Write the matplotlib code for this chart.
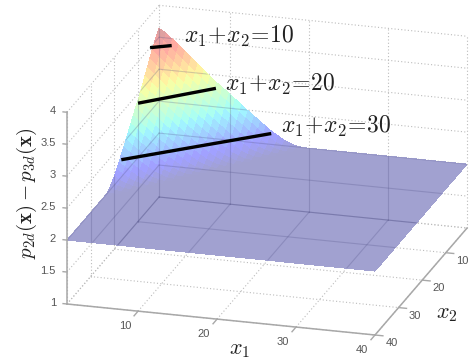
import numpy as np
import matplotlib
matplotlib.use("Agg")
import matplotlib.pyplot as plt
from matplotlib.path import Path
from matplotlib.transforms import IdentityTransform
from mpl_toolkits.mplot3d import proj3d

plt.rcParams['font.family'] = ['Liberation Sans', 'DejaVu Sans']
plt.rcParams['mathtext.fontset'] = 'cm'

# surface height read along the diagonals of the grid, then flat at 2
z_profile = [3.64, 3.58, 3.50, 3.42, 3.33, 3.24, 3.15, 3.06, 2.97, 2.89,
             2.82, 2.74, 2.66, 2.58, 2.50, 2.42, 2.35, 2.27, 2.20, 2.14,
             2.08, 2.04, 2.01] + [2.0] * 70

x1_ticks = [10, 20, 30, 40]
x2_ticks = [10, 20, 30, 40]
z_ticks = [1, 1.5, 2, 2.5, 3, 3.5, 4]
z_labels = ['1', '1.5', '2', '2.5', '3', '3.5', '4']

# black lines: x1 ends, x2 ends, z ends
line_x1 = [[1, 2.6], [1, 8.2], [1, 15.2]]
line_x2 = [[4.8, 1], [9.9, 1], [17, 1]]
line_z = [[3.5, 3.39], [2.85, 2.79], [2.27, 2.17]]

x1 = np.linspace(1, 40, 50)
x2 = np.arange(1, 41)
Z = np.array([[z_profile[i + j] for j in range(len(x2))] for i in range(len(x1))])
X1, X2 = np.meshgrid(x1, x2, indexing='ij')

fig = plt.figure(figsize=(4.69, 3.6), dpi=100)
ax = fig.add_axes([0, 0, 1, 1], projection='3d', proj_type='ortho', computed_zorder=False)
ax.set_axis_off()
ax.set_xlim(1, 40)
ax.set_ylim(40, 1)
ax.set_zlim(1, 4)
ax.set_box_aspect((321, 326, 204))
ax.view_init(elev=20, azim=-73.6)

# fit the box to the reference corners
def pix(x, y, z):
    X, Y, _ = proj3d.proj_transform(x, y, z, ax.get_proj())
    p = ax.transData.transform((X, Y))
    return p[0], 360 - p[1]

pos = [0.0, 0.0, 1.0, 1.0]
for k in range(4):
    ax.set_position(pos)
    fig.canvas.draw()
    a = pix(1, 40, 1)
    b = pix(40, 40, 1)
    s = 308 / (b[0] - a[0])
    pos[2] *= s
    pos[3] = pos[2] * 469 / 360
    ax.set_position(pos)
    fig.canvas.draw()
    a = pix(1, 40, 1)
    pos[0] += (67 - a[0]) / 469
    pos[1] -= (304 - a[1]) / 360
ax.set_position(pos)
fig.canvas.draw()

def draw_grid(clip=None, **style):
    lines = []
    for z in z_ticks:
        lines += ax.plot([1, 1], [40, 1], [z, z], **style)
        lines += ax.plot([1, 40], [1, 1], [z, z], **style)
    for x in x1_ticks:
        lines += ax.plot([x, x], [1, 40], [1, 1], **style)
        lines += ax.plot([x, x], [1, 1], [1, 4], **style)
    for y in x2_ticks:
        lines += ax.plot([1, 40], [y, y], [1, 1], **style)
        lines += ax.plot([1, 1], [y, y], [1, 4], **style)
    lines += ax.plot([1, 1], [1, 1], [1, 4], **style)
    lines += ax.plot([1, 40], [1, 1], [1, 1], **style)
    lines += ax.plot([1, 1], [1, 40], [1, 1], **style)
    if clip is not None:
        for ln in lines:
            ln.set_clip_path(clip, IdentityTransform())

draw_grid(color='#bcbcbc', lw=0.8, ls=(0, (1, 2)), zorder=1)

# see-through look: colours mixed with white by hand, no seams between facets
colors = plt.cm.jet(np.clip((Z - 2) / 1.7, 0, 1))
colors[..., :3] = 0.37 * colors[..., :3] + 0.63
ax.plot_surface(X1, X2, Z, facecolors=colors, rstride=1, cstride=1, shade=False,
                linewidth=0, edgecolor='none', antialiased=False, zorder=2)

# grid seen through the surface, cut to its outline
edge_x = np.r_[X1[:, 0], X1[-1, :], X1[::-1, -1], X1[0, ::-1]]
edge_y = np.r_[X2[:, 0], X2[-1, :], X2[::-1, -1], X2[0, ::-1]]
edge_z = np.r_[Z[:, 0], Z[-1, :], Z[::-1, -1], Z[0, ::-1]]
outline = [pix(a, b, c) for a, b, c in zip(edge_x, edge_y, edge_z)]
outline = Path([(p[0], 360 - p[1]) for p in outline])
draw_grid(clip=outline, color='#4a4a80', lw=0.8, alpha=0.25, zorder=3)

for a1, a2, az in zip(line_x1, line_x2, line_z):
    ax.plot(a1, a2, az, color='black', lw=2.4, solid_capstyle='butt', zorder=6)

# solid front axes
axis = dict(color='#a8a8a8', lw=1.1, zorder=5)
ax.plot([1, 1], [40, 40], [1, 4], **axis)
ax.plot([1, 40], [40, 40], [1, 1], **axis)
ax.plot([40, 40], [40, 1], [1, 1], **axis)

def put_text(x, y, z, s):
    px, py = pix(x, y, z)
    return px / 469, 1 - py / 360, s

tick_col = '#555555'
for z, lab in zip(z_ticks, z_labels):
    ax.plot([1, 0.5], [40, 40], [z, z], color='#a8a8a8', lw=1, zorder=5)
    fig.text(*put_text(-0.4, 40, z, lab), ha='right', va='center', fontsize=8, color=tick_col)
for x in x1_ticks:
    ax.plot([x, x], [40, 41.7], [1, 1], color='#a8a8a8', lw=1, zorder=5)
    fig.text(*put_text(x, 45.5, 1, str(x)), ha='center', va='center', fontsize=8, color=tick_col)
for y in x2_ticks:
    ax.plot([40, 41], [y, y], [1, 1], color='#a8a8a8', lw=1, zorder=5)
    fig.text(*put_text(42.1, y, 0.9, str(y)), ha='center', va='center', fontsize=8, color=tick_col)

label_col = '#222222'
fig.text(239.5 / 469, 1 - 36 / 360, r'$x_1\!+\!x_2\!=\!10$', ha='center', va='center', fontsize=17, color=label_col)
fig.text(280 / 469, 1 - 84 / 360, r'$x_1\!+\!x_2\!=\!20$', ha='center', va='center', fontsize=17, color=label_col)
fig.text(336 / 469, 1 - 126 / 360, r'$x_1\!+\!x_2\!=\!30$', ha='center', va='center', fontsize=17, color=label_col)
fig.text(27 / 469, 1 - 193 / 360, r'$p_{2d}(\mathbf{x})-p_{3d}(\mathbf{x})$', rotation=90,
         ha='center', va='center', fontsize=15, color=label_col)
fig.text(240 / 469, 1 - 349 / 360, r'$x_1$', ha='center', va='center', fontsize=16, color=label_col)
fig.text(447 / 469, 1 - 313 / 360, r'$x_2$', ha='center', va='center', fontsize=16, color=label_col)

fig.savefig('out.png', dpi=100)
